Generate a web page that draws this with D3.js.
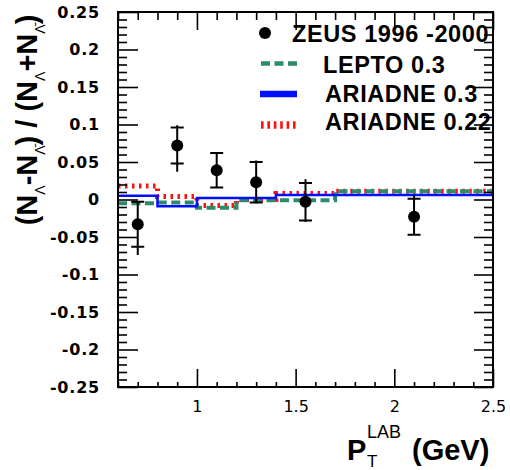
<!DOCTYPE html>
<html>
<head>
<meta charset="utf-8">
<script src="https://cdn.jsdelivr.net/npm/d3@7"></script>
<style>
  html, body { margin: 0; padding: 0; background: #fff; }
  svg { display: block; }
</style>
</head>
<body>
<svg id="chart" width="510" height="470"></svg>
<script>
// ---- data ----
const binEdges   = [0.6, 0.8, 1.0, 1.2, 1.4, 1.7, 2.5];
const lepto03    = [-0.005, -0.004, -0.011, -0.001, -0.001, 0.011];
const ariadne03  = [0.005, -0.009, 0.002, 0.002, 0.006, 0.006];
const ariadne022 = [0.018, 0.004, -0.008, 0.000, 0.008, 0.011];

const zeusX      = [0.7, 0.9, 1.1, 1.3, 1.55, 2.1];
const zeusY      = [-0.033, 0.072, 0.039, 0.023, -0.003, -0.023];
const zeusStat   = [0.030, 0.024, 0.023, 0.027, 0.025, 0.024];
const zeusTotUp  = [0.031, 0.027, 0.023, 0.029, 0.030, 0.029];
const zeusTotDn  = [0.041, 0.035, 0.023, 0.028, 0.027, 0.024];

const yTickLabels = ["0.25","0.2","0.15","0.1","0.05","0","-0.05","-0.1","-0.15","-0.2","-0.25"];
const xTickLabels = ["1","1.5","2","2.5"];
const legendLabels = ["ZEUS 1996 -2000", "LEPTO 0.3", "ARIADNE 0.3", "ARIADNE 0.22"];

// ---- layout ----
const L = 118, R = 493, T = 12, B = 387;
const svg = d3.select("#chart");
const x = d3.scaleLinear().domain([0.6, 2.5]).range([L, R]);
const y = d3.scaleLinear().domain([-0.25, 0.25]).range([B, T]);

const yMajor = yTickLabels.map(Number);
const yMinor = d3.range(-25, 26).map(i => i / 100).filter(v => Math.abs(Math.round(v * 100) % 5) !== 0);
const xMajor = xTickLabels.map(Number);
const xMinor = d3.range(6, 26).map(i => i / 10).filter(v => Math.abs(Math.round(v * 10) % 5) !== 0);

// ---- histograms ----
function histPath(vals) {
  const pts = vals.map((v, i) => [binEdges[i], v]);
  pts.push([binEdges[binEdges.length - 1], vals[vals.length - 1]]);
  return d3.line().x(d => x(d[0])).y(d => y(d[1])).curve(d3.curveStepAfter)(pts);
}
const g = svg.append("g");
g.append("path").attr("d", histPath(ariadne022)).attr("fill", "none")
  .attr("stroke", "#ff1010").attr("stroke-width", 5).attr("stroke-dasharray", "2.5,4.5");
g.append("path").attr("d", histPath(lepto03)).attr("fill", "none")
  .attr("stroke", "#2e8b6a").attr("stroke-width", 4).attr("stroke-dasharray", "9,4.5");
g.append("path").attr("d", histPath(ariadne03)).attr("fill", "none")
  .attr("stroke", "#0010ff").attr("stroke-width", 2.5);

// ---- data points ----
const pts = zeusX.map((xv, i) => ({x: xv, y: zeusY[i], s: zeusStat[i], up: zeusTotUp[i], dn: zeusTotDn[i]}));
const pg = svg.append("g");
pg.selectAll("line.tot").data(pts).enter().append("line")
  .attr("x1", d => x(d.x)).attr("x2", d => x(d.x))
  .attr("y1", d => y(d.y + d.up)).attr("y2", d => y(d.y - d.dn))
  .attr("stroke", "#000").attr("stroke-width", 2);
pg.selectAll("line.capu").data(pts).enter().append("line")
  .attr("x1", d => x(d.x) - 6.5).attr("x2", d => x(d.x) + 6.5)
  .attr("y1", d => y(d.y + d.s)).attr("y2", d => y(d.y + d.s))
  .attr("stroke", "#000").attr("stroke-width", 2);
pg.selectAll("line.capd").data(pts).enter().append("line")
  .attr("x1", d => x(d.x) - 6.5).attr("x2", d => x(d.x) + 6.5)
  .attr("y1", d => y(d.y - d.s)).attr("y2", d => y(d.y - d.s))
  .attr("stroke", "#000").attr("stroke-width", 2);
pg.selectAll("circle").data(pts).enter().append("circle")
  .attr("cx", d => x(d.x)).attr("cy", d => y(d.y)).attr("r", 6).attr("fill", "#000");

// ---- legend ----
const lg = svg.append("g");
const legFont = "'Liberation Sans', Arial, sans-serif";
lg.append("circle").attr("cx", 265).attr("cy", 33).attr("r", 6).attr("fill", "#000");
lg.append("line").attr("x1", 261).attr("x2", 297).attr("y1", 63.5).attr("y2", 63.5)
  .attr("stroke", "#2e8b6a").attr("stroke-width", 4.5).attr("stroke-dasharray", "9,4.5");
lg.append("line").attr("x1", 260).attr("x2", 297).attr("y1", 94).attr("y2", 94)
  .attr("stroke", "#0010ff").attr("stroke-width", 6.5);
lg.append("line").attr("x1", 261).attr("x2", 297).attr("y1", 125).attr("y2", 125)
  .attr("stroke", "#ff1010").attr("stroke-width", 7.5).attr("stroke-dasharray", "2.6,3.8");
const legPos = [[292, 41.5], [323, 73], [325, 101.5], [325, 130]];
legendLabels.forEach((t, i) => {
  lg.append("text").attr("x", legPos[i][0]).attr("y", legPos[i][1]).text(t)
    .attr("font-family", legFont).attr("font-weight", "bold").attr("font-size", 23.5)
    .attr("letter-spacing", "0.6px").attr("fill", "#000");
});

// ---- axes ticks ----
function clean(sel) { sel.select(".domain").remove(); }
svg.append("g").attr("transform", `translate(${L},0)`)
  .call(d3.axisLeft(y).tickValues(yMajor).tickSize(-20).tickFormat("")).call(clean);
svg.append("g").attr("transform", `translate(${L},0)`)
  .call(d3.axisLeft(y).tickValues(yMinor).tickSize(-9).tickFormat("")).call(clean);
svg.append("g").attr("transform", `translate(${R},0)`)
  .call(d3.axisRight(y).tickValues(yMajor).tickSize(-19).tickFormat("")).call(clean);
svg.append("g").attr("transform", `translate(${R},0)`)
  .call(d3.axisRight(y).tickValues(yMinor).tickSize(-9).tickFormat("")).call(clean);
svg.append("g").attr("transform", `translate(0,${B})`)
  .call(d3.axisBottom(x).tickValues(xMajor).tickSize(-18).tickFormat("")).call(clean);
svg.append("g").attr("transform", `translate(0,${B})`)
  .call(d3.axisBottom(x).tickValues(xMinor).tickSize(-5).tickFormat("")).call(clean);
svg.append("g").attr("transform", `translate(0,${T})`)
  .call(d3.axisTop(x).tickValues(xMajor).tickSize(-18).tickFormat("")).call(clean);
svg.append("g").attr("transform", `translate(0,${T})`)
  .call(d3.axisTop(x).tickValues(xMinor).tickSize(-8).tickFormat("")).call(clean);
svg.selectAll(".tick line").attr("stroke", "#000").attr("stroke-width", 1.6);

// frame
svg.append("rect").attr("x", L).attr("y", T).attr("width", R - L).attr("height", B - T)
  .attr("fill", "none").attr("stroke", "#000").attr("stroke-width", 2);

// tick labels
const yl = svg.append("g").attr("transform", `translate(${L},0)`)
  .call(d3.axisLeft(y).tickValues(yMajor).tickSize(0).tickPadding(18)
    .tickFormat((d, i) => yTickLabels[i])).call(clean);
yl.selectAll("text").attr("font-family", "'DejaVu Sans', sans-serif").attr("font-weight", "bold")
  .attr("font-size", 16).attr("letter-spacing", "0.8px").attr("fill", "#000");

const xl = svg.append("g").attr("transform", `translate(0,${B})`)
  .call(d3.axisBottom(x).tickValues(xMajor).tickSize(0).tickPadding(14)
    .tickFormat((d, i) => xTickLabels[i])).call(clean);
xl.selectAll("text").attr("font-family", "'DejaVu Sans', sans-serif")
  .attr("font-size", 16).attr("fill", "#000");

// ---- axis titles ----
const titleFont = "'Liberation Sans', Arial, sans-serif";
const yt = svg.append("text").attr("transform", "translate(37,120) rotate(-90)")
  .attr("text-anchor", "middle").attr("font-family", titleFont).attr("font-weight", "bold")
  .attr("font-size", 29).attr("fill", "#000");
const parts = [["(N", 0], ["Λ", 1], ["-N", 0], ["Λ\u0304", 1], [") / (N", 0], ["Λ", 1], ["+N", 0], ["Λ\u0304", 1], [")", 0]];
let prevSub = false;
parts.forEach(([t, sub]) => {
  const ts = yt.append("tspan").text(t);
  if (sub) { ts.attr("font-size", 14).attr("dy", prevSub ? 0 : 8).attr("font-weight", "normal"); }
  else if (prevSub) { ts.attr("dy", -8); }
  prevSub = !!sub;
});

svg.append("text").attr("x", 347).attr("y", 460).text("P")
  .attr("font-family", titleFont).attr("font-weight", "bold").attr("font-size", 29).attr("fill", "#000");
svg.append("text").attr("x", 367).attr("y", 467).text("T")
  .attr("font-family", titleFont).attr("font-size", 17).attr("fill", "#000");
svg.append("text").attr("x", 367).attr("y", 438).text("LAB")
  .attr("font-family", titleFont).attr("font-size", 18).attr("fill", "#000");
svg.append("text").attr("x", 412).attr("y", 460).text("(GeV)")
  .attr("font-family", titleFont).attr("font-weight", "bold").attr("font-size", 29).attr("fill", "#000");
</script>
</body>
</html>
